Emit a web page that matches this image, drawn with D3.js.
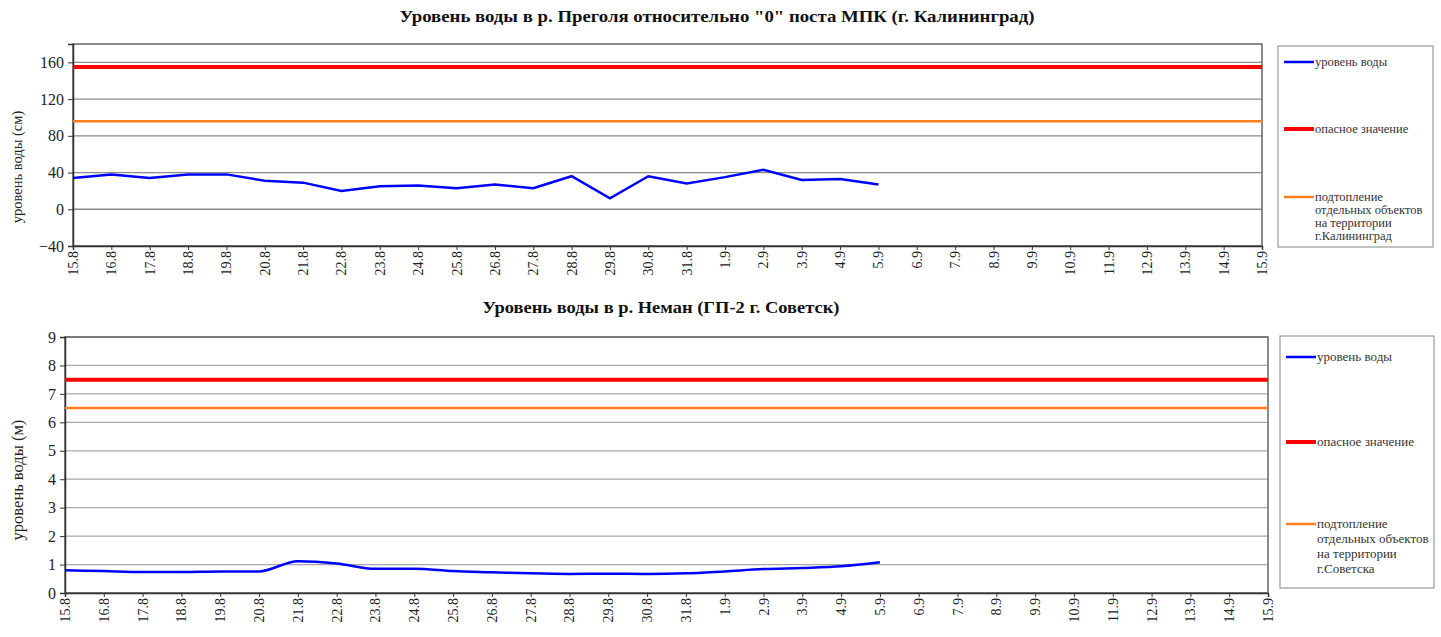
<!DOCTYPE html>
<html>
<head>
<meta charset="utf-8">
<script src="https://cdn.jsdelivr.net/npm/d3@7"></script>
<style>
  body { margin: 0; background: #fff; }
  text { font-family: "Liberation Serif", "Times New Roman", serif; }
</style>
</head>
<body>
<script>
// days on the x axis
let dates = ["15.8", "16.8", "17.8", "18.8", "19.8", "20.8", "21.8", "22.8", "23.8", "24.8",
             "25.8", "26.8", "27.8", "28.8", "29.8", "30.8", "31.8", "1.9", "2.9", "3.9",
             "4.9", "5.9", "6.9", "7.9", "8.9", "9.9", "10.9", "11.9", "12.9", "13.9",
             "14.9", "15.9"];

// Pregolya, cm (measured up to 5.9)
let pregolyaLevel = [34, 38, 34, 38, 38, 31, 29, 20, 25, 26, 23, 27, 23, 36, 12, 36, 28, 35, 43, 32, 33, 27];
let pregolyaDanger = 155;
let pregolyaFlood = 96;
let pregolyaTicks = [-40, 0, 40, 80, 120, 160];

// Neman, m
let nemanLevel = [0.80, 0.77, 0.74, 0.74, 0.76, 0.76, 1.12, 1.04, 0.85, 0.85, 0.77, 0.73,
                  0.69, 0.67, 0.68, 0.67, 0.69, 0.76, 0.84, 0.88, 0.94, 1.08];
let nemanDanger = 7.5;
let nemanFlood = 6.5;
let nemanTicks = [0, 1, 2, 3, 4, 5, 6, 7, 8, 9];

let legendNames = ["уровень воды", "опасное значение"];

let svg = d3.select("body")
    .append("svg")
    .attr("width", 1441)
    .attr("height", 637);

function drawChart(cfg) {
    let x = d3.scalePoint()
        .domain(dates)
        .range([cfg.left, cfg.right]);

    let y = d3.scaleLinear()
        .domain(cfg.domain)
        .range([cfg.bottom, cfg.top]);

    let g = svg.append("g");

    // title (source picture is a bit stretched sideways)
    g.append("text")
        .attr("x", cfg.titleX)
        .attr("y", cfg.titleY)
        .attr("text-anchor", "middle")
        .attr("textLength", cfg.titleW)
        .attr("lengthAdjust", "spacingAndGlyphs")
        .style("font-size", "16px")
        .style("font-weight", "bold")
        .attr("fill", "#111")
        .text(cfg.title);

    // grid
    g.append("g")
        .selectAll("line")
        .data(cfg.ticks)
        .enter()
        .append("line")
            .attr("x1", cfg.left)
            .attr("x2", cfg.right)
            .attr("y1", d => y(d))
            .attr("y2", d => y(d))
            .attr("stroke", cfg.gridColor)
            .attr("stroke-width", 1.3);

    // frame
    g.append("rect")
        .attr("x", cfg.left)
        .attr("y", cfg.top)
        .attr("width", cfg.right - cfg.left)
        .attr("height", cfg.bottom - cfg.top)
        .attr("fill", "none")
        .attr("stroke", "#666")
        .attr("stroke-width", 1.5);

    // axes
    let yAxis = g.append("g")
        .attr("transform", `translate(${cfg.left},0)`)
        .call(d3.axisLeft(y).tickValues(cfg.ticks).tickSize(5).tickPadding(4));
    yAxis.select(".domain").attr("stroke", "#333").attr("stroke-width", 1.5);
    yAxis.selectAll(".tick line").attr("stroke", "#333");
    yAxis.selectAll("text")
        .style("font-size", "16px")
        .attr("fill", "#222");

    let xAxis = g.append("g")
        .attr("transform", `translate(0,${cfg.bottom})`)
        .call(d3.axisBottom(x).tickSize(4).tickPadding(4));
    xAxis.select(".domain").attr("stroke", "#333").attr("stroke-width", 1.5);
    xAxis.selectAll(".tick line").attr("stroke", "#333");
    xAxis.selectAll("text")
        .style("font-size", "14px")
        .attr("fill", "#222")
        .attr("transform", "rotate(-90)")
        .attr("text-anchor", "end")
        .attr("x", -5)
        .attr("y", 0)
        .attr("dy", "0.32em");

    // y label
    g.append("text")
        .attr("transform", `translate(${cfg.labelX},${cfg.labelY}) rotate(-90)`)
        .attr("text-anchor", "middle")
        .attr("dy", "0.35em")
        .style("font-size", cfg.labelFont + "px")
        .attr("fill", "#222")
        .text(cfg.yLabel);

    // threshold lines
    let flat = v => dates.map(d => ({ d: d, v: v }));
    let line = d3.line().x(p => x(p.d)).y(p => y(p.v));

    g.append("path")
        .datum(flat(cfg.flood))
        .attr("d", line)
        .attr("fill", "none")
        .attr("stroke", "#ff7f1e")
        .attr("stroke-width", 2.5);

    g.append("path")
        .datum(flat(cfg.danger))
        .attr("d", line)
        .attr("fill", "none")
        .attr("stroke", "#ff0000")
        .attr("stroke-width", 4);

    // water level
    let levelLine = d3.line()
        .x((v, i) => x(dates[i]))
        .y(v => y(v))
        .curve(cfg.smooth ? d3.curveMonotoneX : d3.curveLinear);

    g.append("path")
        .datum(cfg.level)
        .attr("d", levelLine)
        .attr("fill", "none")
        .attr("stroke", "#0000ff")
        .attr("stroke-width", 2.5);

    // legend
    let lg = g.append("g");
    lg.append("rect")
        .attr("x", cfg.legend.x)
        .attr("y", cfg.legend.y)
        .attr("width", cfg.legend.w)
        .attr("height", cfg.legend.h)
        .attr("fill", "#fff")
        .attr("stroke", "#999")
        .attr("stroke-width", 1.2);

    let items = [
        { lines: [legendNames[0]], color: "#0000ff", w: 2.5 },
        { lines: [legendNames[1]], color: "#ff0000", w: 4 },
        { lines: cfg.floodName, color: "#ff7f1e", w: 2.5 }
    ];

    items.forEach((it, i) => {
        let yy = cfg.legend.rows[i];
        lg.append("line")
            .attr("x1", cfg.legend.x + 6)
            .attr("x2", cfg.legend.x + 36)
            .attr("y1", yy)
            .attr("y2", yy)
            .attr("stroke", it.color)
            .attr("stroke-width", it.w);
        let t = lg.append("text")
            .attr("x", cfg.legend.x + 37)
            .attr("y", yy)
            .style("font-size", cfg.legend.font + "px")
            .attr("fill", "#333");
        it.lines.forEach((s, k) => {
            t.append("tspan")
                .attr("x", cfg.legend.x + 37)
                .attr("dy", k === 0 ? "0.32em" : cfg.legend.lh + "px")
                .text(s);
        });
    });
}

drawChart({
    title: "Уровень воды в р. Преголя относительно \"0\" поста МПК (г. Калининград)",
    titleX: 717, titleY: 22, titleW: 635,
    left: 73, right: 1262, top: 44, bottom: 246,
    domain: [-40, 180],
    ticks: pregolyaTicks,
    gridColor: "#8a8a8a",
    level: pregolyaLevel,
    danger: pregolyaDanger,
    flood: pregolyaFlood,
    smooth: false,
    yLabel: "уровень воды (см)",
    labelX: 17, labelY: 167, labelFont: 14.5,
    floodName: ["подтопление", "отдельных объектов", "на территории", "г.Калининград"],
    legend: { x: 1278, y: 46, w: 155, h: 201, rows: [62, 129, 197], font: 12.5, lh: 13 }
});

drawChart({
    title: "Уровень воды в р. Неман (ГП-2 г. Советск)",
    titleX: 661, titleY: 313, titleW: 357,
    left: 65, right: 1268, top: 337, bottom: 593,
    domain: [0, 9],
    ticks: nemanTicks,
    gridColor: "#a8a8a8",
    level: nemanLevel,
    danger: nemanDanger,
    flood: nemanFlood,
    smooth: true,
    yLabel: "уровень воды (м)",
    labelX: 17, labelY: 480, labelFont: 16.5,
    floodName: ["подтопление", "отдельных объектов", "на территории", "г.Советска"],
    legend: { x: 1280, y: 336, w: 154, h: 252, rows: [357, 442, 524], font: 13, lh: 15 }
});
</script>
</body>
</html>
